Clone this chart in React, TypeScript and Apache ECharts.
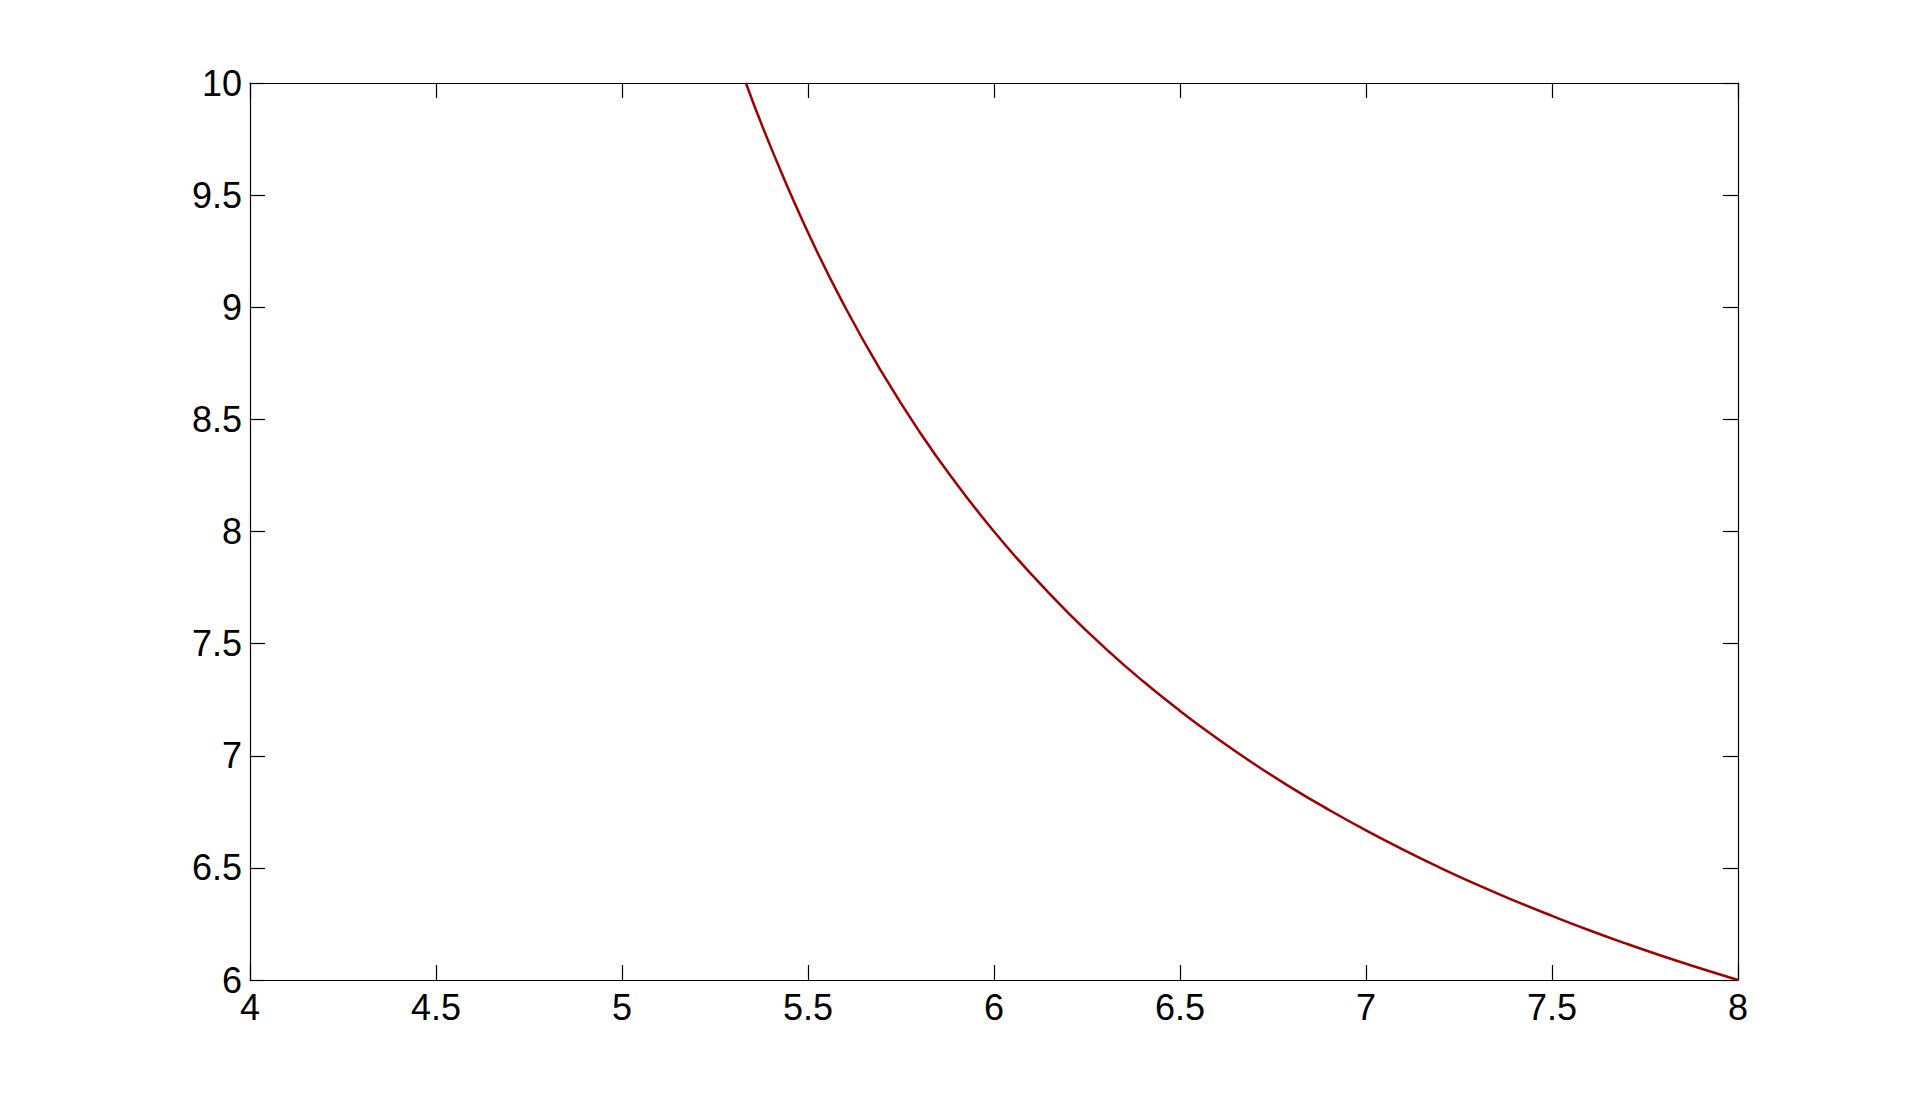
import React, { useEffect, useRef } from "react";
import * as echarts from "echarts";

const xValues = [5.333, 5.4, 5.5, 5.6, 5.7, 5.8, 5.9, 6.0, 6.1, 6.2, 6.3, 6.4, 6.5, 6.6, 6.7, 6.8, 6.9, 7.0, 7.1, 7.2, 7.3, 7.4, 7.5, 7.6, 7.7, 7.8, 7.9, 8.0];
const yValues = [10.0, 9.714, 9.333, 9.0, 8.706, 8.444, 8.211, 8.0, 7.81, 7.636, 7.478, 7.333, 7.2, 7.077, 6.963, 6.857, 6.759, 6.667, 6.581, 6.5, 6.424, 6.353, 6.286, 6.222, 6.162, 6.105, 6.051, 6.0];
const xRange = [4, 8];
const yRange = [6, 10];
const tickStep = 0.5;

export default function App() {
  const ref = useRef<HTMLDivElement>(null);
  useEffect(() => {
    if (!ref.current) return;
    const chart = echarts.init(ref.current, null, { renderer: "svg" });
    const font = { fontFamily: "Liberation Sans, Arial, sans-serif", fontSize: 36, color: "#000" };
    const axisCommon = {
      type: "value" as const,
      interval: tickStep,
      axisLine: { show: true, onZero: false, lineStyle: { color: "#000", width: 1.2 } },
      axisTick: { show: true, inside: true, length: 15, lineStyle: { color: "#000", width: 1.2 } },
      splitLine: { show: false },
    };
    chart.setOption({
      animation: false,
      backgroundColor: "#fff",
      grid: { left: 250, top: 83, width: 1488, height: 897, containLabel: false },
      xAxis: [
        {
          ...axisCommon,
          position: "bottom",
          min: xRange[0],
          max: xRange[1],
          axisLabel: { ...font, margin: 9, formatter: (v: number) => String(v) },
        },
        {
          ...axisCommon,
          position: "top",
          min: xRange[0],
          max: xRange[1],
          axisLabel: { show: false },
        },
      ],
      yAxis: [
        {
          ...axisCommon,
          position: "left",
          min: yRange[0],
          max: yRange[1],
          axisLabel: { ...font, margin: 8, formatter: (v: number) => String(v) },
        },
        {
          ...axisCommon,
          position: "right",
          min: yRange[0],
          max: yRange[1],
          axisLabel: { show: false },
        },
      ],
      series: [
        {
          type: "line",
          xAxisIndex: 0,
          yAxisIndex: 0,
          data: xValues.map((x, i) => [x, yValues[i]]),
          showSymbol: false,
          smooth: true,
          lineStyle: { color: "#a00000", width: 2.5 },
          clip: true,
        },
      ],
    });
    return () => chart.dispose();
  }, []);
  return (
    <div
      ref={ref}
      style={{ position: "absolute", left: 0, top: 0, width: 1920, height: 1101 }}
    />
  );
}
